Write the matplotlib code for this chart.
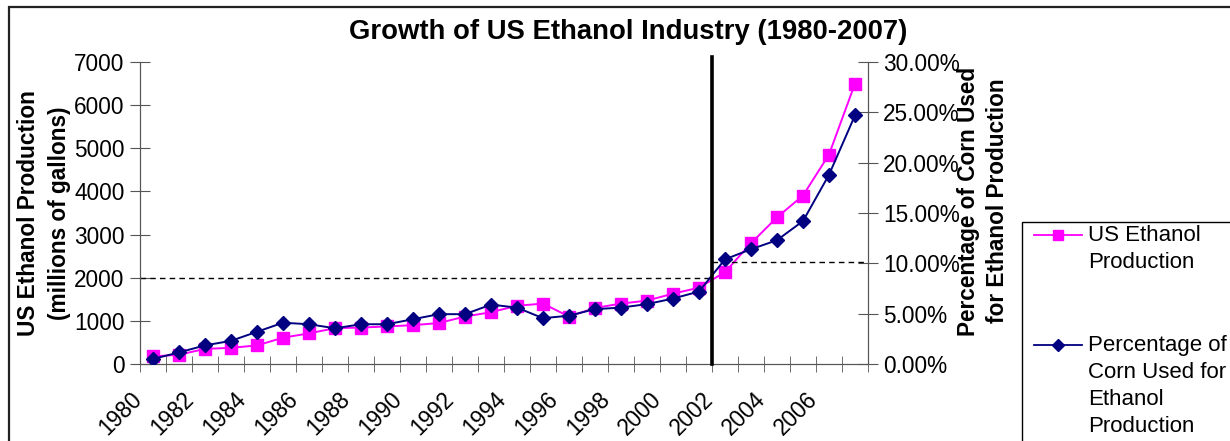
import numpy as np
import matplotlib
matplotlib.use("Agg")
import matplotlib.pyplot as plt
from matplotlib.lines import Line2D
from matplotlib.patches import Rectangle
from matplotlib.ticker import FuncFormatter
from matplotlib.transforms import ScaledTranslation

plt.rcParams['font.family'] = ['Liberation Sans', 'DejaVu Sans']

years = list(range(1980, 2008))
ethanol = [175, 215, 350, 375, 430, 610, 710, 830, 845, 870, 900, 950, 1100, 1200,
           1350, 1400, 1100, 1300, 1400, 1470, 1630, 1770, 2130, 2800, 3400, 3904, 4855, 6500]
corn_pct = [0.5, 1.15, 1.85, 2.3, 3.2, 4.1, 3.95, 3.55, 3.95, 3.95, 4.45, 4.95, 4.95, 5.9,
            5.6, 4.55, 4.8, 5.45, 5.6, 5.95, 6.5, 7.2, 10.4, 11.4, 12.3, 14.2, 18.8, 24.7]
split_year = 2002
prod_level = 2000      # dashed reference before 2002 (left axis)
pct_level = 10.1       # dashed reference after 2002 (right axis)

W, H = 1230, 441
fig = plt.figure(figsize=(W / 100, H / 100), dpi=100)
left, right, top, bottom = 140, 868, 62, 364
ax = fig.add_axes([left / W, 1 - bottom / H, (right - left) / W, (bottom - top) / H])
ax2 = ax.twinx()

x = np.arange(len(years)) + 0.5
split_x = years.index(split_year)
spine_c = '#555555'

ax.plot(x, ethanol, color='#FF00FF', lw=1.4, marker='s', ms=8, mec='#FF00FF', zorder=3)
ax.plot([0, split_x], [prod_level, prod_level], color='black', lw=1, ls=(0, (4, 3)))
ax2.plot(x, corn_pct, color='#000080', lw=1.4, marker='D', ms=7.5, mec='#000080', zorder=3)
ax2.plot([split_x, len(years)], [pct_level, pct_level], color='black', lw=1, ls=(0, (4, 3)))
ax2.axvline(split_x, ymin=0, ymax=1.015, color='black', lw=2.6, clip_on=False, zorder=4)

ax.set_xlim(0, len(years))
ax.set_ylim(0, 7000)
ax.set_yticks(range(0, 7001, 1000))
ax2.set_ylim(0, 30)
ax2.set_yticks(range(0, 31, 5))
ax2.yaxis.set_major_formatter(FuncFormatter(lambda v, p: f"{v:.2f}%"))

# category tick marks at the boundaries, year labels every other year
ax.set_xticks([])
ax.set_xticks(np.arange(len(years) + 1), minor=True)
ax.tick_params(axis='x', which='minor', direction='inout', length=11, color=spine_c)
lab_tr = ax.get_xaxis_transform() + ScaledTranslation(-23 / 100, -24 / 100, fig.dpi_scale_trans)
for xi, yr in zip(x[::2], years[::2]):
    ax.text(xi, 0, str(yr), transform=lab_tr, rotation=45, ha='right', va='top',
            rotation_mode='anchor', fontsize=16.3)

ax.tick_params(axis='y', direction='inout', length=14, labelsize=16.3, pad=4, color=spine_c)
ax2.tick_params(axis='y', direction='inout', length=14, labelsize=16.3, pad=4, color=spine_c)

for a in (ax, ax2):
    a.spines['top'].set_visible(False)
    for s in ('left', 'right', 'bottom'):
        a.spines[s].set_color(spine_c)

fig.text(628 / W, 1 - 32 / H, "Growth of US Ethanol Industry (1980-2007)",
         ha='center', va='center', fontsize=19.8, fontweight='bold')
fig.text(44 / W, 1 - 213 / H, "US Ethanol Production\n(millions of gallons)",
         ha='center', va='center', rotation=90, fontsize=16.3, fontweight='bold',
         linespacing=1.45)
fig.text(983 / W, 1 - 201 / H, "Percentage of Corn Used\nfor Ethanol Production",
         ha='center', va='center', rotation=90, fontsize=16.3, fontweight='bold',
         linespacing=1.3)

# chart frame
fig.patches.append(Rectangle((9 / W, -0.1), 1.2, 1 - 7 / H + 0.1, transform=fig.transFigure,
                             fill=False, ec='#222222', lw=1.6))

# legend
fig.patches.append(Rectangle((1022 / W, -0.1), 1.0, 0.1 + 1 - 222 / H,
                             transform=fig.transFigure, fill=False, ec='black', lw=1))
entries = [("US Ethanol\nProduction", '#FF00FF', 's', 7, 235),
           ("Percentage of\nCorn Used for\nEthanol\nProduction", '#000080', 'D', 6.5, 345)]
for label, c, m, ms, yy in entries:
    fig.lines.append(Line2D(np.array([1034, 1058, 1082]) / W, [1 - yy / H] * 3,
                            transform=fig.transFigure, color=c, lw=1.3, marker=m, ms=ms,
                            mec=c, markevery=[1]))
    fig.text(1088 / W, 1 - (yy - 10) / H, label, ha='left', va='top', fontsize=16,
             linespacing=1.38)

fig.savefig("out.png", dpi=100)
